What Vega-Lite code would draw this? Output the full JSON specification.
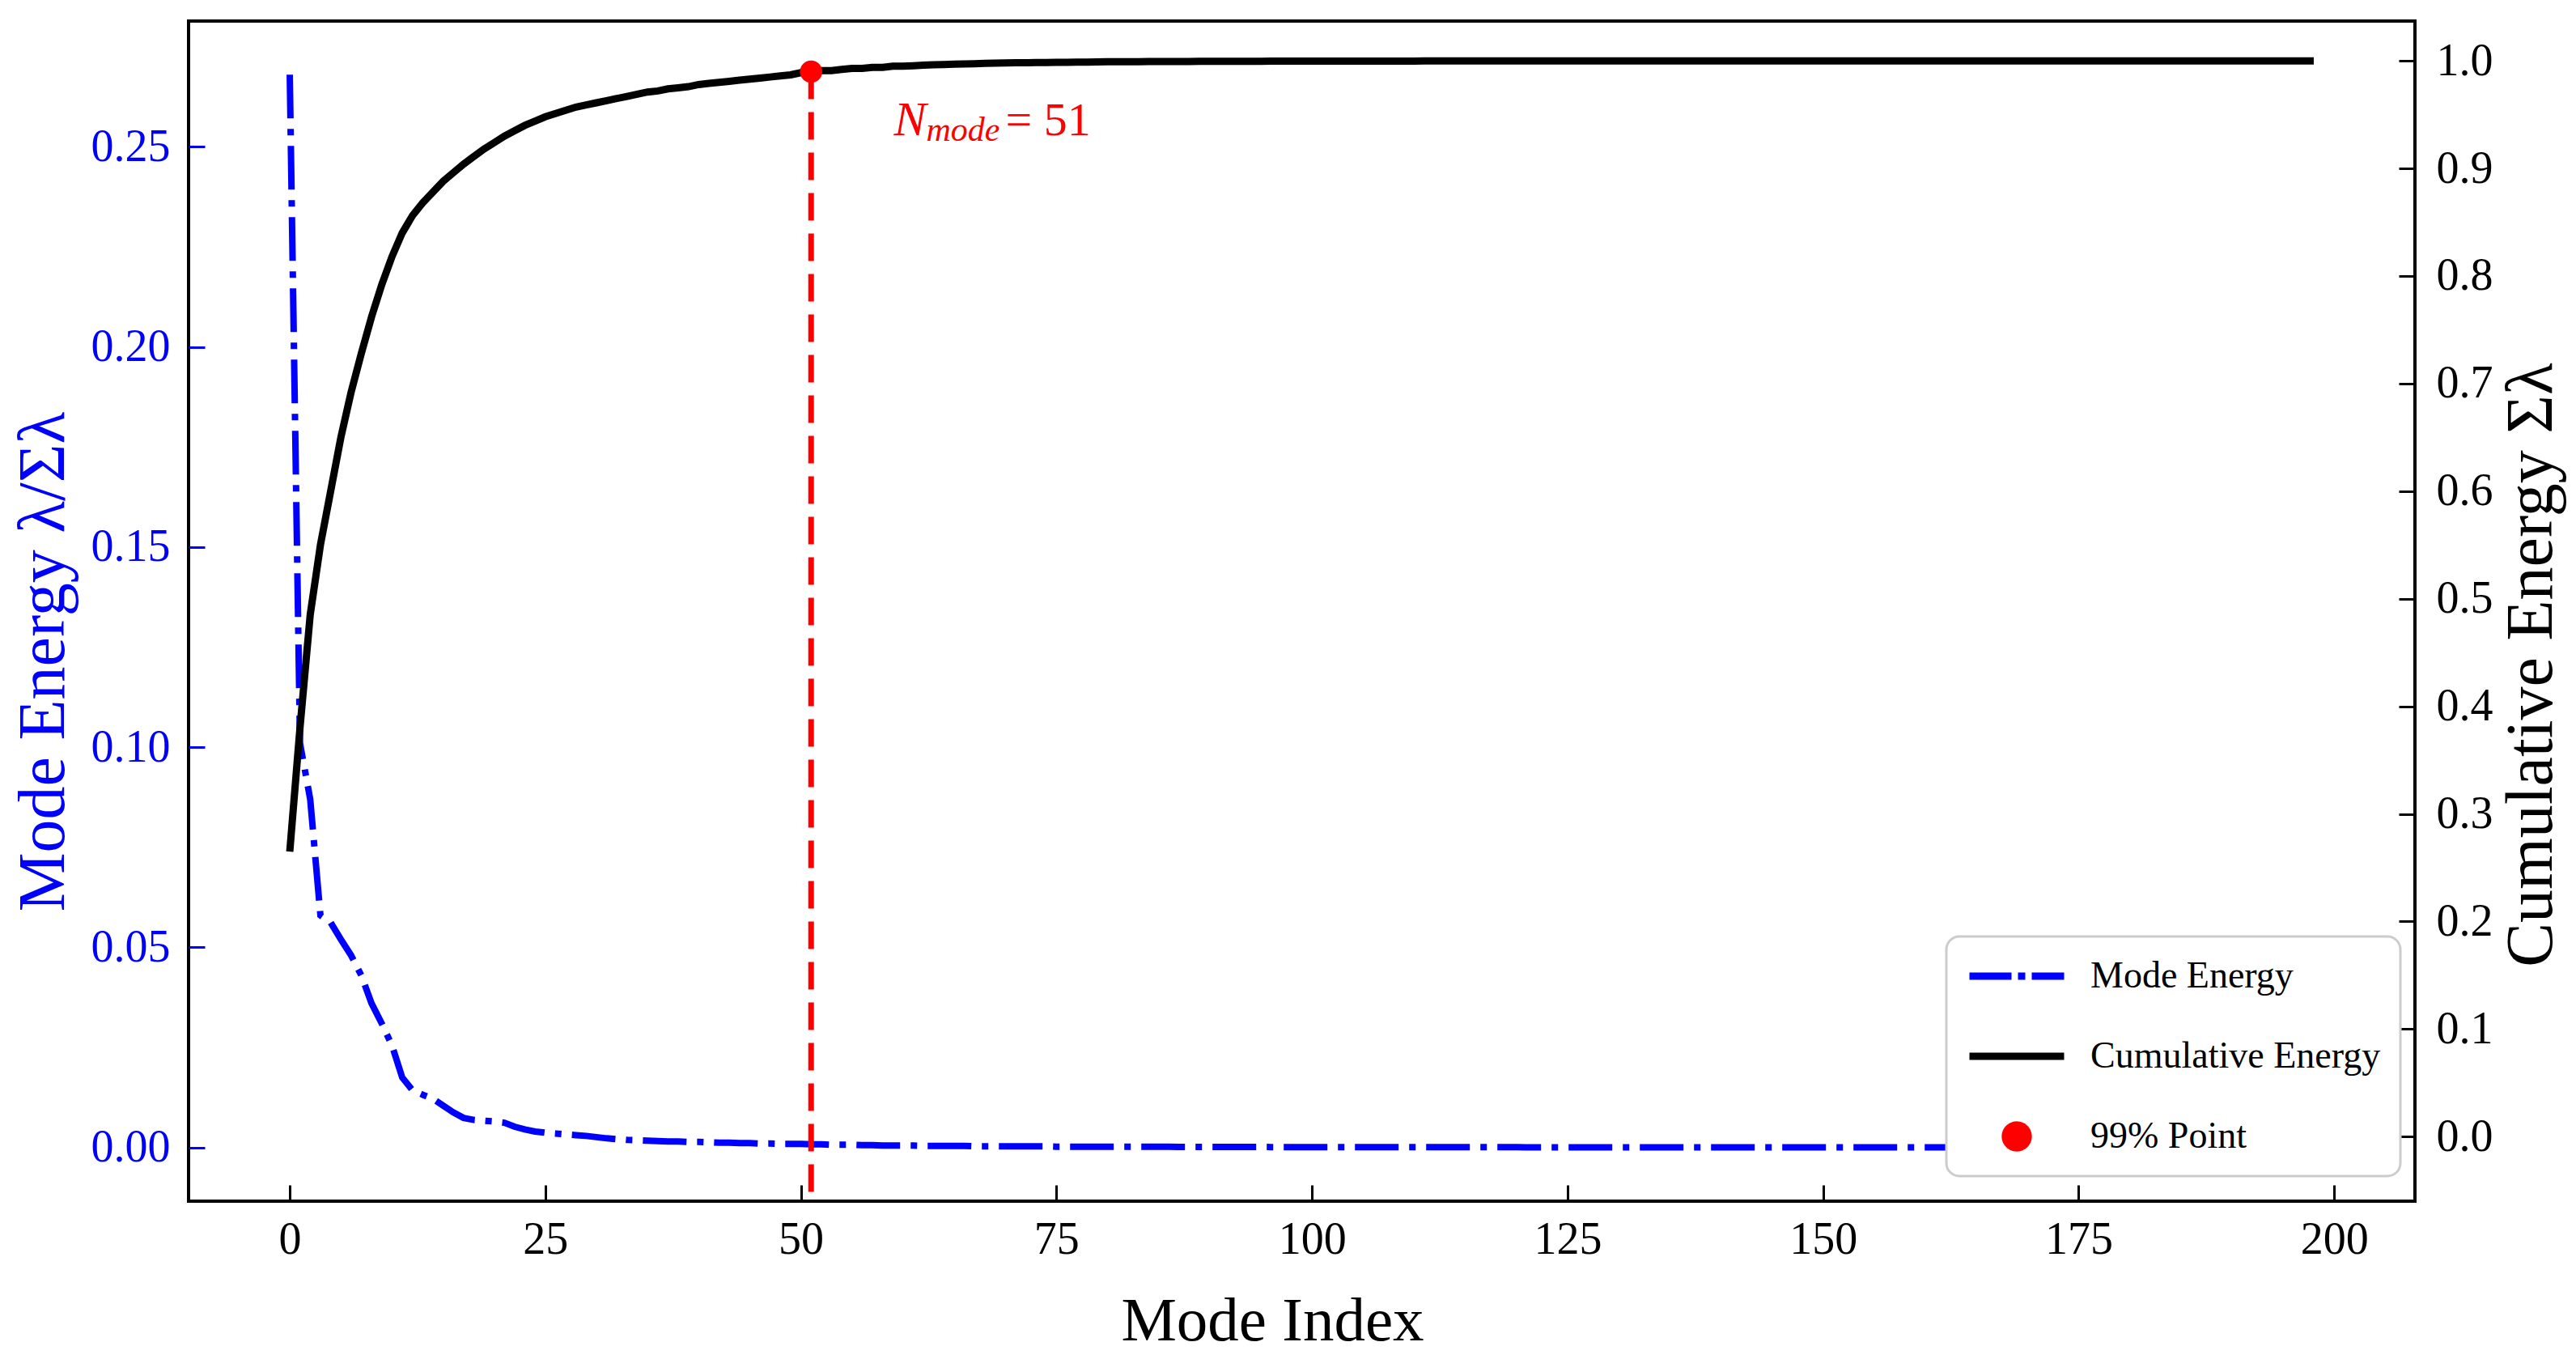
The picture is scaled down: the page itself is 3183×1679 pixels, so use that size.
{
  "$schema": "https://vega.github.io/schema/vega-lite/v6.json",
  "width": 2751,
  "height": 1458,
  "autosize": {"type": "none"},
  "padding": {"left": 233, "top": 26, "right": 199, "bottom": 195},
  "background": "#ffffff",
  "config": {
    "view": {"stroke": "#000000", "strokeWidth": 4},
    "font": "Liberation Serif",
    "axis": {
      "grid": false,
      "domain": false,
      "labelFont": "Liberation Serif",
      "titleFont": "Liberation Serif",
      "titleFontWeight": "normal",
      "labelFontSize": 56,
      "titleFontSize": 82,
      "tickSize": -20,
      "tickWidth": 3,
      "tickColor": "#000000",
      "labelColor": "#000000",
      "titleColor": "#000000",
      "labelFlush": false,
      "labelOverlap": false
    },
    "legend": {"strokeWidth": 3}
  },
  "datasets": {
    "modes": [
      {"i":0,"e":0.268,"c":0.265},{"i":1,"e":0.101,"c":0.380},{"i":2,"e":0.087,"c":0.485},{"i":3,"e":0.058,"c":0.550},
      {"i":4,"e":0.0562,"c":0.600},{"i":5,"e":0.052,"c":0.650},{"i":6,"e":0.048,"c":0.692},{"i":7,"e":0.043,"c":0.728},
      {"i":8,"e":0.036,"c":0.762},{"i":9,"e":0.031,"c":0.792},{"i":10,"e":0.0255,"c":0.818},{"i":11,"e":0.0175,"c":0.840},
      {"i":12,"e":0.0143,"c":0.856},{"i":13,"e":0.0132,"c":0.868},{"i":14,"e":0.0122,"c":0.878},{"i":15,"e":0.0105,"c":0.888},
      {"i":16,"e":0.0088,"c":0.896},{"i":17,"e":0.0074,"c":0.904},{"i":18,"e":0.0069,"c":0.911},{"i":19,"e":0.0067,"c":0.918},
      {"i":20,"e":0.0065,"c":0.924},{"i":21,"e":0.0062,"c":0.930},{"i":22,"e":0.0052,"c":0.935},{"i":23,"e":0.0045,"c":0.940},
      {"i":24,"e":0.0040,"c":0.944},{"i":25,"e":0.0037,"c":0.948},{"i":26,"e":0.0035,"c":0.951},{"i":27,"e":0.0033,"c":0.954},
      {"i":28,"e":0.0031,"c":0.957},{"i":29,"e":0.0029,"c":0.959},{"i":30,"e":0.0026,"c":0.961},{"i":31,"e":0.0023,"c":0.963},
      {"i":32,"e":0.0021,"c":0.965},{"i":33,"e":0.0019,"c":0.967},{"i":34,"e":0.0018,"c":0.969},{"i":35,"e":0.0017,"c":0.971},
      {"i":36,"e":0.0016,"c":0.972},{"i":37,"e":0.0015,"c":0.974},{"i":38,"e":0.0015,"c":0.975},{"i":39,"e":0.0014,"c":0.976},
      {"i":40,"e":0.0014,"c":0.978},{"i":41,"e":0.0013,"c":0.979},{"i":42,"e":0.0012,"c":0.980},{"i":43,"e":0.0012,"c":0.981},
      {"i":44,"e":0.0011,"c":0.982},{"i":45,"e":0.0011,"c":0.983},{"i":46,"e":0.0010,"c":0.984},{"i":47,"e":0.0010,"c":0.985},
      {"i":48,"e":0.0009,"c":0.986},{"i":49,"e":0.0009,"c":0.987},{"i":50,"e":0.0009,"c":0.989},{"i":51,"e":0.0008,"c":0.990},
      {"i":52,"e":0.0008,"c":0.991},{"i":53,"e":0.0007,"c":0.991},{"i":54,"e":0.0007,"c":0.992},{"i":55,"e":0.0007,"c":0.993},
      {"i":56,"e":0.0006,"c":0.993},{"i":57,"e":0.0006,"c":0.994},{"i":58,"e":0.0005,"c":0.994},{"i":59,"e":0.0005,"c":0.995},
      {"i":60,"e":0.0005,"c":0.995},{"i":61,"e":0.0005,"c":0.9955},{"i":62,"e":0.0004,"c":0.996},{"i":63,"e":0.0004,"c":0.9963},
      {"i":64,"e":0.0004,"c":0.9966},{"i":65,"e":0.0004,"c":0.9969},{"i":66,"e":0.0004,"c":0.9972},{"i":67,"e":0.0003,"c":0.9974},
      {"i":68,"e":0.0003,"c":0.9976},{"i":69,"e":0.0003,"c":0.9978},{"i":70,"e":0.0003,"c":0.998},{"i":71,"e":0.0003,"c":0.9982},
      {"i":72,"e":0.0003,"c":0.9983},{"i":73,"e":0.0003,"c":0.9984},{"i":74,"e":0.0003,"c":0.9985},{"i":75,"e":0.0002,"c":0.9986},
      {"i":76,"e":0.0002,"c":0.9987},{"i":77,"e":0.0002,"c":0.9988},{"i":78,"e":0.0002,"c":0.9989},{"i":79,"e":0.0002,"c":0.999},
      {"i":80,"e":0.0002,"c":0.9991},{"i":81,"e":0.0002,"c":0.9991},{"i":82,"e":0.0002,"c":0.9992},{"i":83,"e":0.0002,"c":0.9992},
      {"i":84,"e":0.0002,"c":0.9993},{"i":85,"e":0.00018,"c":0.9993},{"i":86,"e":0.00018,"c":0.9994},{"i":87,"e":0.00017,"c":0.9994},
      {"i":88,"e":0.00016,"c":0.9994},{"i":89,"e":0.00016,"c":0.9995},{"i":90,"e":0.00015,"c":0.9995},{"i":91,"e":0.00015,"c":0.9995},
      {"i":92,"e":0.00014,"c":0.9996},{"i":93,"e":0.00014,"c":0.9996},{"i":94,"e":0.00013,"c":0.9996},{"i":95,"e":0.00013,"c":0.9996},
      {"i":96,"e":0.00012,"c":0.9997},{"i":97,"e":0.00012,"c":0.9997},{"i":98,"e":0.00011,"c":0.9997},{"i":99,"e":0.00011,"c":0.9997},
      {"i":100,"e":0.0001,"c":0.9997},{"i":101,"e":0.0001,"c":0.9998},{"i":102,"e":0.0001,"c":0.9998},{"i":103,"e":0.0001,"c":0.9998},
      {"i":104,"e":0.0001,"c":0.9998},{"i":105,"e":0.0001,"c":0.9998},{"i":106,"e":0.00009,"c":0.9998},{"i":107,"e":0.00009,"c":0.9998},
      {"i":108,"e":0.00009,"c":0.9998},{"i":109,"e":0.00009,"c":0.9998},{"i":110,"e":0.00009,"c":0.9998},{"i":111,"e":0.00009,"c":0.9999},
      {"i":112,"e":0.00008,"c":0.9999},{"i":113,"e":0.00008,"c":0.9999},{"i":114,"e":0.00008,"c":0.9999},{"i":115,"e":0.00008,"c":0.9999},
      {"i":116,"e":0.00008,"c":0.9999},{"i":117,"e":0.00008,"c":0.9999},{"i":118,"e":0.00008,"c":0.9999},{"i":119,"e":0.00008,"c":0.9999},
      {"i":120,"e":0.00008,"c":0.9999},{"i":121,"e":0.00007,"c":0.9999},{"i":122,"e":0.00007,"c":0.9999},{"i":123,"e":0.00007,"c":0.9999},
      {"i":124,"e":0.00007,"c":0.9999},{"i":125,"e":0.00007,"c":0.9999},{"i":126,"e":0.00007,"c":0.9999},{"i":127,"e":0.00007,"c":0.9999},
      {"i":128,"e":0.00007,"c":0.9999},{"i":129,"e":0.00007,"c":0.9999},{"i":130,"e":0.00007,"c":0.9999},{"i":131,"e":0.00006,"c":0.9999},
      {"i":132,"e":0.00006,"c":0.9999},{"i":133,"e":0.00006,"c":0.9999},{"i":134,"e":0.00006,"c":0.9999},{"i":135,"e":0.00006,"c":0.9999},
      {"i":136,"e":0.00006,"c":0.9999},{"i":137,"e":0.00006,"c":0.9999},{"i":138,"e":0.00006,"c":0.9999},{"i":139,"e":0.00006,"c":0.9999},
      {"i":140,"e":0.00006,"c":0.9999},{"i":141,"e":0.00005,"c":0.9999},{"i":142,"e":0.00005,"c":0.9999},{"i":143,"e":0.00005,"c":0.9999},
      {"i":144,"e":0.00005,"c":0.9999},{"i":145,"e":0.00005,"c":0.9999},{"i":146,"e":0.00005,"c":0.9999},{"i":147,"e":0.00005,"c":0.9999},
      {"i":148,"e":0.00005,"c":0.9999},{"i":149,"e":0.00005,"c":0.9999},{"i":150,"e":0.00005,"c":0.9999},{"i":151,"e":0.00004,"c":1.0},
      {"i":152,"e":0.00004,"c":1.0},{"i":153,"e":0.00004,"c":1.0},{"i":154,"e":0.00004,"c":1.0},{"i":155,"e":0.00004,"c":1.0},
      {"i":156,"e":0.00004,"c":1.0},{"i":157,"e":0.00004,"c":1.0},{"i":158,"e":0.00004,"c":1.0},{"i":159,"e":0.00004,"c":1.0},
      {"i":160,"e":0.00004,"c":1.0},{"i":161,"e":0.00004,"c":1.0},{"i":162,"e":0.00004,"c":1.0},{"i":163,"e":0.00004,"c":1.0},
      {"i":164,"e":0.00004,"c":1.0},{"i":165,"e":0.00004,"c":1.0},{"i":166,"e":0.00003,"c":1.0},{"i":167,"e":0.00003,"c":1.0},
      {"i":168,"e":0.00003,"c":1.0},{"i":169,"e":0.00003,"c":1.0},{"i":170,"e":0.00003,"c":1.0},{"i":171,"e":0.00003,"c":1.0},
      {"i":172,"e":0.00003,"c":1.0},{"i":173,"e":0.00003,"c":1.0},{"i":174,"e":0.00003,"c":1.0},{"i":175,"e":0.00003,"c":1.0},
      {"i":176,"e":0.00003,"c":1.0},{"i":177,"e":0.00003,"c":1.0},{"i":178,"e":0.00003,"c":1.0},{"i":179,"e":0.00003,"c":1.0},
      {"i":180,"e":0.00003,"c":1.0},{"i":181,"e":0.00002,"c":1.0},{"i":182,"e":0.00002,"c":1.0},{"i":183,"e":0.00002,"c":1.0},
      {"i":184,"e":0.00002,"c":1.0},{"i":185,"e":0.00002,"c":1.0},{"i":186,"e":0.00002,"c":1.0},{"i":187,"e":0.00002,"c":1.0},
      {"i":188,"e":0.00002,"c":1.0},{"i":189,"e":0.00002,"c":1.0},{"i":190,"e":0.00002,"c":1.0},{"i":191,"e":0.00002,"c":1.0},
      {"i":192,"e":0.00002,"c":1.0},{"i":193,"e":0.00002,"c":1.0},{"i":194,"e":0.00002,"c":1.0},{"i":195,"e":0.00002,"c":1.0},
      {"i":196,"e":0.00002,"c":1.0},{"i":197,"e":0.00002,"c":1.0},{"i":198,"e":0.00002,"c":1.0}
    ],
    "cutoff": [{"i": 51, "c": 0.99, "lo": -0.06}],
    "note": [{"i": 59.1, "c": 0.931}]
  },
  "encoding": {
    "x": {
      "field": "i",
      "type": "quantitative",
      "title": "Mode Index",
      "scale": {"domain": [-9.9, 207.9], "nice": false, "zero": false},
      "axis": {
        "orient": "bottom",
        "values": [0, 25, 50, 75, 100, 125, 150, 175, 200],
        "format": "d",
        "labelPadding": 40,
        "titleFontSize": 77,
        "titleX": 1339,
        "titleY": 171,
        "titleAlign": "center",
        "titleBaseline": "alphabetic"
      }
    }
  },
  "layer": [
    {
      "data": {"name": "modes"},
      "mark": {"type": "line", "strokeWidth": 8, "strokeDash": [54, 13, 8, 13]},
      "encoding": {
        "y": {
          "field": "e",
          "type": "quantitative",
          "title": "Mode Energy  λ/Σλ",
          "scale": {"domain": [-0.0134, 0.2814], "nice": false, "zero": false},
          "axis": {
            "orient": "left",
            "values": [0, 0.05, 0.1, 0.15, 0.2, 0.25],
            "format": ".2f",
            "labelColor": "#0000ff",
            "tickColor": "#0000ff",
            "titleColor": "#0000ff",
            "labelPadding": 43,
            "titleAngle": 270,
            "titleX": -155,
            "titleY": 791,
            "titleAlign": "center",
            "titleBaseline": "alphabetic"
          }
        },
        "color": {
          "datum": "Mode Energy",
          "type": "nominal",
          "scale": {
            "domain": ["Mode Energy", "Cumulative Energy", "99% Point"],
            "range": ["#0000ff", "#000000", "#ff0000"]
          },
          "legend": {
            "title": null,
            "orient": "none",
            "legendX": 2172,
            "legendY": 1131,
            "direction": "vertical",
            "labelFont": "Liberation Serif",
            "labelFontSize": 46,
            "labelColor": "#000000",
            "labelLimit": 0,
            "symbolType": "stroke",
            "symbolSize": 13689,
            "symbolStrokeWidth": 9,
            "clipHeight": 50,
            "labelOffset": 28,
            "rowPadding": 49,
            "padding": 24,
            "fillColor": "#ffffff",
            "strokeColor": "#cccccc",
            "cornerRadius": 16,
            "encode": {
              "symbols": {
                "update": {
                  "shape": {"signal": "datum.value === '99% Point' ? 'circle' : 'stroke'"},
                  "size": {"signal": "datum.value === '99% Point' ? 800 : 13689"},
                  "fill": {"signal": "datum.value === '99% Point' ? '#ff0000' : 'transparent'"},
                  "stroke": {"signal": "datum.value === '99% Point' ? 'transparent' : (datum.value === 'Mode Energy' ? '#0000ff' : '#000000')"},
                  "strokeWidth": {"value": 9},
                  "strokeDash": {"signal": "datum.value === 'Mode Energy' ? [52, 8, 9, 8] : [1, 0]"},
                  "opacity": {"value": 1}
                }
              }
            }
          }
        }
      }
    },
    {
      "encoding": {
        "y": {
          "field": "c",
          "type": "quantitative",
          "title": "Cumulative Energy Σλ",
          "scale": {"domain": [-0.06, 1.037], "nice": false, "zero": false},
          "axis": {
            "orient": "right",
            "values": [0, 0.1, 0.2, 0.3, 0.4, 0.5, 0.6, 0.7, 0.8, 0.9, 1.0],
            "format": ".1f",
            "labelPadding": 46,
            "titleAngle": 270,
            "titleX": 168,
            "titleY": 795,
            "titleAlign": "center",
            "titleBaseline": "alphabetic"
          }
        }
      },
      "layer": [
        {
          "data": {"name": "modes"},
          "mark": {"type": "line", "strokeWidth": 9, "color": "#000000"}
        },
        {
          "data": {"name": "cutoff"},
          "mark": {"type": "rule", "color": "#ff0000", "strokeWidth": 7, "strokeDash": [34, 16]},
          "encoding": {"y2": {"field": "lo"}}
        },
        {
          "data": {"name": "cutoff"},
          "mark": {"type": "circle", "color": "#ff0000", "size": 760, "opacity": 1}
        },
        {
          "data": {"name": "note"},
          "mark": {"type": "text", "text": "N", "font": "Liberation Serif", "fontStyle": "italic", "fontSize": 60, "color": "#ff0000", "align": "left", "baseline": "alphabetic"}
        },
        {
          "data": {"name": "note"},
          "mark": {"type": "text", "text": "mode", "font": "Liberation Serif", "fontStyle": "italic", "fontSize": 42, "color": "#ff0000", "align": "left", "baseline": "alphabetic", "dx": 40, "dy": 7}
        },
        {
          "data": {"name": "note"},
          "mark": {"type": "text", "text": "= 51", "font": "Liberation Serif", "fontSize": 58, "color": "#ff0000", "align": "left", "baseline": "alphabetic", "dx": 138}
        }
      ]
    }
  ],
  "resolve": {"scale": {"y": "independent"}}
}
